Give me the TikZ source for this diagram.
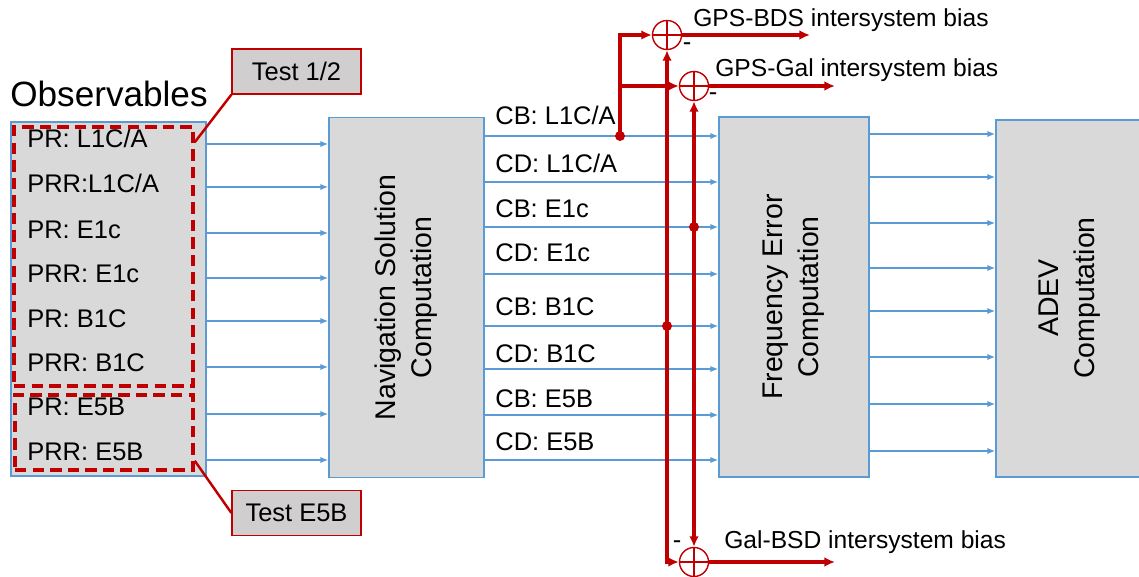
\documentclass[tikz,border=0pt]{standalone}
\usepackage{fontspec}
\setmainfont{Liberation Sans}
\usetikzlibrary{arrows.meta,calc,positioning}
\definecolor{BoxGray}{HTML}{D9D9D9}
\definecolor{LineBlue}{HTML}{5B9BD5}
\definecolor{BiasRed}{HTML}{C00000}
\definecolor{TagGray}{HTML}{D0CECE}

\begin{document}
\begin{tikzpicture}[
    x=0.02cm, y=-0.02cm,
    font=\fontsize{14.5}{17}\selectfont,
    block/.style={draw=LineBlue,fill=BoxGray,line width=0.8pt,inner sep=0pt},
    vtext/.style={rotate=90,align=center,font=\fontsize{16.2}{20.5}\selectfont},
    lbl/.style={anchor=base west,inner sep=0pt},
    barr/.style={-{Latex[length=4.5pt,width=3.6pt]},LineBlue,line width=1.1pt},
    rarr/.style={-{Latex[length=6pt,width=5.5pt]},BiasRed,line width=2pt},
    rline/.style={BiasRed,line width=1.4pt},
    grp/.style={draw=BiasRed,line width=2pt,dash pattern=on 6.5pt off 3.5pt,inner sep=0pt},
    tag/.style={draw=BiasRed,fill=TagGray,line width=0.7pt,minimum width=2.58cm,minimum height=0.9cm,inner sep=0pt},
    sumnode/.style={circle,draw=BiasRed,line width=0.8pt,minimum size=0.58cm,inner sep=0pt,
      path picture={\draw[BiasRed,line width=0.8pt] (path picture bounding box.north) -- (path picture bounding box.south)
        (path picture bounding box.west) -- (path picture bounding box.east);}},
    jdot/.style={circle,fill=BiasRed,minimum size=0.2cm,inner sep=0pt}
  ]
    \useasboundingbox (0,0) rectangle (1139,577);

    % processing blocks
    \node[block,minimum width=3.9cm,minimum height=7.08cm] (obs) at (108.5,299) {};
    \node[lbl,font=\fontsize{20}{24}\selectfont] (obstitle) at (10,107) {Observables};
    \node[block,minimum width=3.1cm,minimum height=7.2cm] (nav) at (406.5,297.5) {};
    \node[vtext] (navtxt) at (nav.center) {Navigation Solution\\Computation};
    \node[block,minimum width=3cm,minimum height=7.2cm] (freq) at (794,297) {};
    \node[vtext] (freqtxt) at (freq.center) {Frequency Error\\Computation};
    \node[block,minimum width=3.1cm,minimum height=7.14cm] (adev) at (1073.5,298.5) {};
    \node[vtext] (adevtxt) at (1070,298) {ADEV\\Computation};

    % observables
    \node[lbl] (pr1) at (27,148) {PR: L1C/A};
    \node[lbl] (prr1) at (27,193) {PRR:L1C/A};
    \node[lbl] (pr2) at (27,239) {PR: E1c};
    \node[lbl] (prr2) at (27,283) {PRR: E1c};
    \node[lbl] (pr3) at (27,328) {PR: B1C};
    \node[lbl] (prr3) at (27,372) {PRR: B1C};
    \node[lbl] (pr4) at (27,416) {PR: E5B};
    \node[lbl] (prr4) at (27,460) {PRR: E5B};

    % test groups
    \node[grp,minimum width=3.58cm,minimum height=5.18cm] (grpA) at (103.5,256.5) {};
    \node[grp,minimum width=3.56cm,minimum height=1.5cm] (grpB) at (104,432.5) {};
    \node[tag] (tagA) at (296.5,71.5) {Test 1/2};
    \node[tag] (tagB) at (296.5,513) {Test E5B};
    \draw[rline] ($(grpA.north east)+(0,17)$) -- (tagA.south west);
    \draw[rline] ($(grpB.south east)+(0,-11)$) -- (tagB.west);

    % clock bias / drift outputs
    \node[lbl] (cb1) at (495,125) {CB: L1C/A};
    \node[lbl] (cd1) at (495,173) {CD: L1C/A};
    \node[lbl] (cb2) at (495,218) {CB: E1c};
    \node[lbl] (cd2) at (495,262) {CD: E1c};
    \node[lbl] (cb3) at (495,316) {CB: B1C};
    \node[lbl] (cd3) at (495,362) {CD: B1C};
    \node[lbl] (cb4) at (495,407) {CB: E5B};
    \node[lbl] (cd4) at (495,450) {CD: E5B};

    \foreach \y in {144,187,233,278,321,367,414,460}
      \draw[barr] (obs.east |- 0,\y) -- (nav.west |- 0,\y);
    \foreach \y in {136,182,227,274,326,369,415,460}
      \draw[barr] (nav.east |- 0,\y) -- (freq.west |- 0,\y);
    \foreach \y in {134,177,223,268,311,357,404,451}
      \draw[barr] (freq.east |- 0,\y) -- (adev.west |- 0,\y);

    % intersystem biases
    \node[sumnode] (s1) at (667,35) {};
    \node[sumnode] (s2) at (694,86) {};
    \node[sumnode] (s3) at (694,562) {};
    \node[jdot] (j1) at (620,136) {};
    \node[jdot] (j2) at (694,227) {};
    \node[jdot] (j3) at (667,326) {};
    \coordinate (o1) at (810,35);
    \coordinate (o2) at (835,86);
    \coordinate (o3) at (835,562);

    \draw[rarr] (j1.center) -- (j1 |- s1) -- (s1.west);
    \draw[rarr] (j1 |- s2) -- (s2.west);
    \draw[rarr] (j3.center) -- (s1.south);
    \draw[rarr] (j3.center) -- (j3 |- s3) -- (s3.west);
    \draw[rarr] (j2.center) -- (s2.south);
    \draw[rarr] (j2.center) -- (s3.north);
    \draw[rarr] (s1.east) -- (o1);
    \draw[rarr] (s2.east) -- (o2);
    \draw[rarr] (s3.east) -- (o3);

    \node[lbl,font=\fontsize{14}{17}\selectfont] (bias1) at (693,27) {GPS-BDS intersystem bias};
    \node[lbl,font=\fontsize{14}{17}\selectfont] (bias2) at (715,77) {GPS-Gal intersystem bias};
    \node[lbl,font=\fontsize{14}{17}\selectfont] (bias3) at (724,548) {Gal-BSD intersystem bias};
    \node[inner sep=0pt] (m1) at (687,47) {-};
    \node[inner sep=0pt] (m2) at (713,97) {-};
    \node[inner sep=0pt] (m3) at (677,545) {-};
\end{tikzpicture}
\end{document}
